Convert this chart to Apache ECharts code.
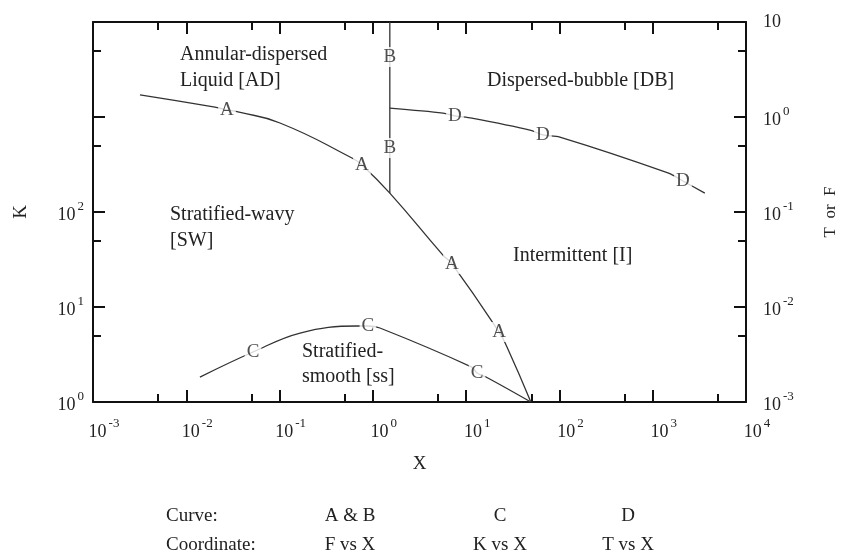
<!DOCTYPE html>
<html><head><meta charset="utf-8">
<script src="https://cdn.jsdelivr.net/npm/echarts@6/dist/echarts.min.js"></script>
<style>html,body{margin:0;padding:0;background:#fff}#c{width:843px;height:558px}</style>
</head><body><div id="c"></div>
<script>
// ---- tick labels (exponents of 10) ----
const xExpLabels  = ['-3','-2','-1','0','1','2','3','4'];   // X: 10^-3 .. 10^4
const kExpLabels  = ['0','1','2',null,null];                // K (left): 10^0 .. 10^4
const tfExpLabels = ['-3','-2','-1','0',''];                // T or F (right): 10^-3 .. 10^1 ("10")

// ---- curve A : F vs X ----
const curveA_X = [0.00319, 0.0203, 0.0273, 0.0358, 0.101, 0.597, 0.764, 1.52, 5.64, 7.05, 22.5, 27.4, 49.4];
const curveA_F = [1.71, 1.27, 1.19, 1.13, 0.865, 0.37, 0.313, 0.158, 0.0352, 0.0284, 0.00546, 0.00379, 0.001];
// ---- curve B : F vs X (vertical) ----
const curveB_X = [1.52, 1.52];
const curveB_F = [10, 0.158];
// ---- curve C : K vs X ----
const curveC_X = [0.0140, 0.0519, 0.166, 0.676, 0.885, 1.19, 11.5, 13.1, 17.1, 49.4];
const curveC_K = [1.83, 3.36, 5.32, 6.31, 6.31, 6.01, 2.33, 2.02, 1.79, 1.0];
// ---- curve D : T vs X ----
const curveD_X = [1.52, 5.64, 7.59, 11.5, 48.3, 66.5, 101, 1455, 2110, 3620];
const curveD_T = [1.24, 1.10, 1.03, 0.975, 0.729, 0.647, 0.615, 0.258, 0.212, 0.158];

// ---- curve letter markers ----
const labA_X = [0.0273, 0.764, 7.05, 22.5];
const labA_F = [1.19, 0.313, 0.0284, 0.00546];
const labB_X = [1.52, 1.52];
const labB_F = [4.28, 0.472];
const labC_X = [0.0519, 0.885, 13.1];
const labC_K = [3.36, 6.31, 2.02];
const labD_X = [7.59, 66.5, 2110];
const labD_T = [1.03, 0.647, 0.212];

// ---- region names ----
const regionText = ['Annular-dispersed', 'Liquid [AD]', 'Dispersed-bubble [DB]', 'Stratified-wavy', '[SW]',
                    'Intermittent [I]', 'Stratified-', 'smooth [ss]'];
// ---- legend table ----
const tableHead = ['Curve:', 'A & B', 'C', 'D'];
const tableRow  = ['Coordinate:', 'F vs X', 'K vs X', 'T vs X'];

const FONT = 'Liberation Serif';
const TXT = '#222';
const LINE = '#333';
const AX = '#111';

function zip(a, b) { return a.map((v, i) => [v, b[i]]); }
function expFmt(arr, minExp) {
  return function (v) {
    const e = Math.round(Math.log10(v));
    const s = arr[e - minExp];
    if (s === null || s === undefined) return '';
    return s === '' ? '{b|10}' : '{b|10}{s|' + s + '}';
  };
}
const rich = {
  b: { fontSize: 18, fontFamily: FONT, color: TXT, verticalAlign: 'bottom' },
  s: { fontSize: 13, fontFamily: FONT, color: TXT, verticalAlign: 'bottom', padding: [0, 0, 11, 2] }
};
const minorPos = [0, 1, 2, 3, 4, 5, 6].map(n => n - 3 + Math.log10(5));
const minorPosY = [0, 1, 2, 3].map(n => n + Math.log10(5));

function logX(pos, show) {
  return {
    type: 'log', logBase: 10, min: 1e-3, max: 1e4, interval: 1, position: pos,
    axisLine: { show: true, onZero: false, lineStyle: { color: AX, width: 2 } },
    axisTick: { show: true, inside: true, length: 12, lineStyle: { color: AX, width: 2 } },
    axisLabel: show ? { show: true, margin: 15, formatter: expFmt(xExpLabels, -3), rich: rich, padding: [0, 0, 0, 22] } : { show: false },
    splitLine: { show: false }, minorTick: { show: false },
    name: show ? 'X' : '', nameLocation: 'middle', nameGap: 53,
    nameTextStyle: { fontFamily: FONT, fontSize: 19, color: TXT }
  };
}
function minorAxisX(pos) {
  return {
    type: 'value', min: -3, max: 4, position: pos, show: true,
    axisLine: { show: false, onZero: false }, axisLabel: { show: false }, splitLine: { show: false },
    axisTick: { show: true, inside: true, length: 8, customValues: minorPos, lineStyle: { color: AX, width: 2 } }
  };
}
function minorAxisY(pos) {
  return {
    type: 'value', min: 0, max: 4, position: pos, show: true,
    axisLine: { show: false, onZero: false }, axisLabel: { show: false }, splitLine: { show: false },
    axisTick: { show: true, inside: true, length: 8, customValues: minorPosY, lineStyle: { color: AX, width: 2 } }
  };
}

function lineSeries(x, y, yi, smooth) {
  return {
    type: 'line', xAxisIndex: 0, yAxisIndex: yi, data: zip(x, y), showSymbol: false, symbol: 'none',
    smooth: smooth, lineStyle: { color: LINE, width: 1.3 }, z: 2, silent: true, animation: false
  };
}
function letterSeries(x, y, yi, letter) {
  return {
    type: 'scatter', xAxisIndex: 0, yAxisIndex: yi, symbolSize: 1,
    itemStyle: { color: 'rgba(0,0,0,0)' },
    data: x.map((v, i) => ({ value: [v, y[i]], name: letter })),
    label: { show: true, position: 'inside', formatter: '{b}', fontFamily: FONT, fontSize: 19, color: TXT,
             backgroundColor: '#fff', padding: [1, 2, 0, 2] },
    z: 5, silent: true, animation: false
  };
}

const regionPos = [[180, 55], [180, 81], [487, 81], [170, 215], [170, 241], [513, 256], [302, 352], [302, 377]];
const graphics = regionText.map((t, i) => ({
  type: 'text', x: regionPos[i][0], y: regionPos[i][1], silent: true,
  style: { text: t, fontFamily: FONT, fontSize: 20, fill: TXT, textAlign: 'left', textVerticalAlign: 'middle' }
}));
const colX = [166, 350, 500, 628];
const colAlign = ['left', 'center', 'center', 'center'];
tableHead.forEach((t, i) => graphics.push({ type: 'text', x: colX[i], y: 516, silent: true,
  style: { text: t, fontFamily: FONT, fontSize: 19, fill: TXT, textAlign: colAlign[i], textVerticalAlign: 'middle' } }));
tableRow.forEach((t, i) => graphics.push({ type: 'text', x: colX[i], y: 545, silent: true,
  style: { text: t, fontFamily: FONT, fontSize: 19, fill: TXT, textAlign: colAlign[i], textVerticalAlign: 'middle' } }));

const chart = echarts.init(document.getElementById('c'), null, { renderer: 'canvas' });
chart.setOption({
  animation: false,
  backgroundColor: '#fff',
  grid: { left: 93, right: 97, top: 22, bottom: 156, containLabel: false, outerBoundsMode: 'none' },
  xAxis: [logX('bottom', true), logX('top', false), minorAxisX('bottom'), minorAxisX('top')],
  yAxis: [
    { type: 'log', logBase: 10, min: 1, max: 1e4, interval: 1, position: 'left',
      axisLine: { show: true, onZero: false, lineStyle: { color: AX, width: 2 } },
      axisTick: { show: true, inside: true, length: 12, lineStyle: { color: AX, width: 2 } },
      axisLabel: { show: true, margin: 9, formatter: expFmt(kExpLabels, 0), rich: rich },
      splitLine: { show: false },
      name: 'K', nameLocation: 'middle', nameGap: 62, nameRotate: 90,
      nameTextStyle: { fontFamily: FONT, fontSize: 19, color: TXT } },
    { type: 'log', logBase: 10, min: 1e-3, max: 10, interval: 1, position: 'right',
      axisLine: { show: true, onZero: false, lineStyle: { color: AX, width: 2 } },
      axisTick: { show: true, inside: true, length: 12, lineStyle: { color: AX, width: 2 } },
      axisLabel: { show: true, margin: 17, formatter: expFmt(tfExpLabels, -3), rich: rich },
      splitLine: { show: false },
      name: 'T  or  F', nameLocation: 'middle', nameGap: 76, nameRotate: 90,
      nameTextStyle: { fontFamily: FONT, fontSize: 17, color: TXT } },
    minorAxisY('left'), minorAxisY('right')
  ],
  series: [
    lineSeries(curveA_X, curveA_F, 1, 0.5),
    lineSeries(curveB_X, curveB_F, 1, false),
    lineSeries(curveC_X, curveC_K, 0, 0.4),
    lineSeries(curveD_X, curveD_T, 1, 0.3),
    letterSeries(labA_X, labA_F, 1, 'A'),
    letterSeries(labB_X, labB_F, 1, 'B'),
    letterSeries(labC_X, labC_K, 0, 'C'),
    letterSeries(labD_X, labD_T, 1, 'D')
  ],
  graphic: graphics
});
</script>
</body></html>
